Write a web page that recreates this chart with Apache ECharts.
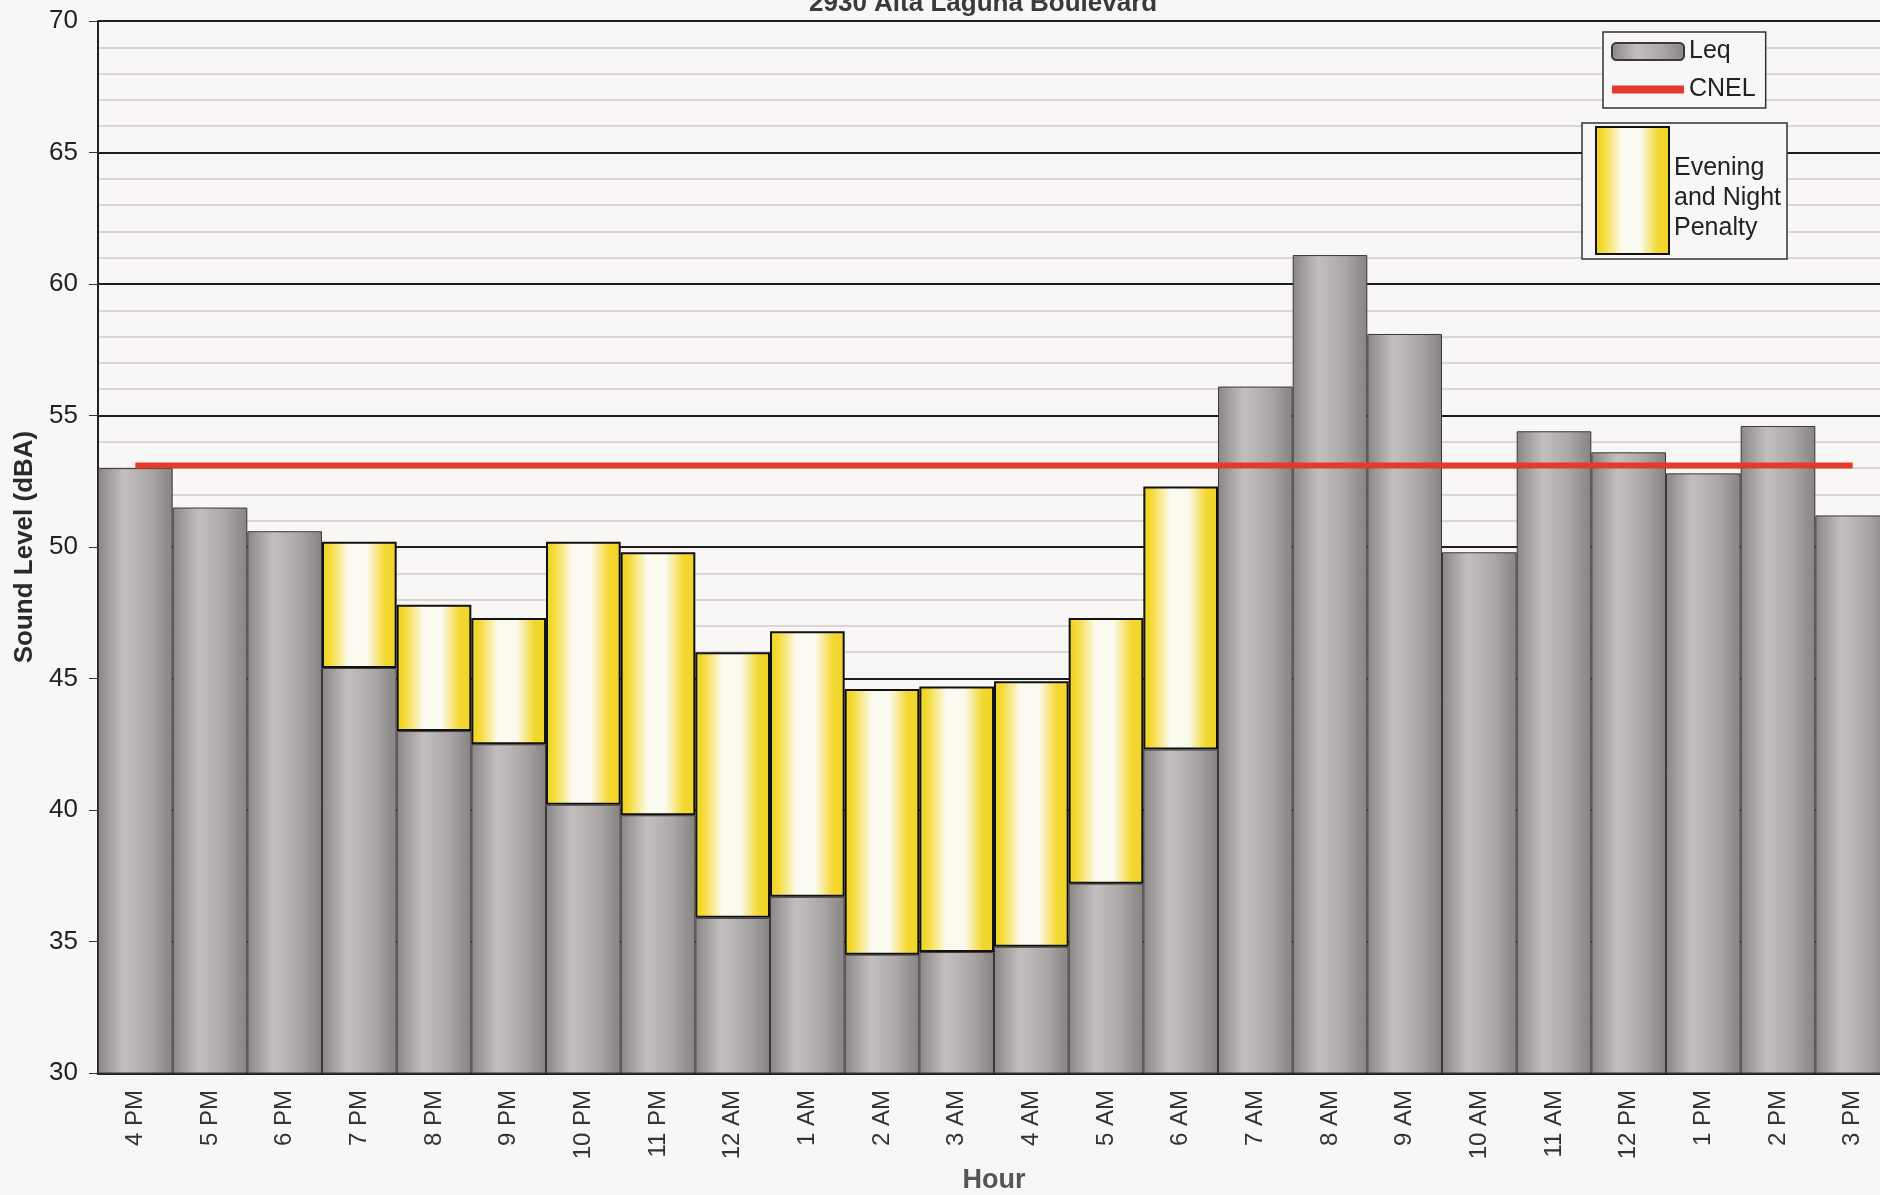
<!DOCTYPE html>
<html>
<head>
<meta charset="utf-8">
<title>2930 Alta Laguna Boulevard</title>
<script src="https://cdn.jsdelivr.net/npm/echarts@6/dist/echarts.min.js"></script>
<style>
  html, body { margin: 0; padding: 0; background: #f8f7f5; overflow: hidden; }
  #chart { width: 1890px; height: 1195px; }
</style>
</head>
<body>
<div id="chart"></div>
<script>
// hours along the bottom
const hours = ['4 PM', '5 PM', '6 PM', '7 PM', '8 PM', '9 PM', '10 PM', '11 PM',
  '12 AM', '1 AM', '2 AM', '3 AM', '4 AM', '5 AM', '6 AM', '7 AM', '8 AM', '9 AM',
  '10 AM', '11 AM', '12 PM', '1 PM', '2 PM', '3 PM']
// hourly Leq (dBA)
const leq = [53.0, 51.5, 50.6, 45.4, 43.0, 42.5, 40.2, 39.8, 35.9, 36.7, 34.5, 34.6,
  34.8, 37.2, 42.3, 56.1, 61.1, 58.1, 49.8, 54.4, 53.6, 52.8, 54.6, 51.2]
// evening (+5) and night (+10) penalty stacked on top of Leq
const penalty = [null, null, null, 4.8, 4.8, 4.8, 10.0, 10.0, 10.1, 10.1, 10.1, 10.1,
  10.1, 10.1, 10.0, null, null, null, null, null, null, null, null, null]
// 24 hour CNEL
const cnel = [53.1, 53.1, 53.1, 53.1, 53.1, 53.1, 53.1, 53.1, 53.1, 53.1, 53.1, 53.1,
  53.1, 53.1, 53.1, 53.1, 53.1, 53.1, 53.1, 53.1, 53.1, 53.1, 53.1, 53.1]
const yTicks = [30, 35, 40, 45, 50, 55, 60, 65, 70]

const font = 'Liberation Sans, Arial, sans-serif'

const grayFill = new echarts.graphic.LinearGradient(0, 0, 1, 0, [
  { offset: 0, color: '#8a8686' },
  { offset: 0.35, color: '#c3bfbf' },
  { offset: 0.7, color: '#aba7a7' },
  { offset: 1, color: '#878383' }
])
const yellowFill = new echarts.graphic.LinearGradient(0, 0, 1, 0, [
  { offset: 0, color: '#f0d01c' },
  { offset: 0.12, color: '#f5dc3c' },
  { offset: 0.36, color: '#fbfaf1' },
  { offset: 0.6, color: '#fbfaf1' },
  { offset: 0.84, color: '#f4d832' },
  { offset: 1, color: '#efd42a' }
])

var myChart = echarts.init(document.getElementById('chart'))
const option = {
  backgroundColor: '#f8f7f5',
  animation: false,
  title: {
    text: '2930 Alta Laguna Boulevard',
    left: 804,
    top: -14,
    textStyle: { fontFamily: font, fontSize: 26, fontWeight: 'bold', color: '#3a3a3a' }
  },
  // keep the plot where the scan has it, labels may run to the page edge
  grid: { left: 98, right: 0, top: 21, bottom: 122, outerBoundsMode: 'none' },
  legend: [
    {
      orient: 'vertical',
      left: 1603,
      top: 32,
      padding: [7, 10, 6, 5],
      itemGap: 13,
      itemWidth: 72,
      itemHeight: 17,
      borderColor: '#333',
      borderWidth: 1.5,
      backgroundColor: '#f8f7f5',
      selectedMode: false,
      data: [
        { name: 'Leq', icon: 'roundRect' },
        // line only, no marker on the legend line
        { name: 'CNEL', lineStyle: { width: 8 }, itemStyle: { opacity: 0 } }
      ],
      textStyle: { fontFamily: font, fontSize: 25, color: '#222' }
    },
    {
      orient: 'vertical',
      left: 1582,
      top: 123,
      padding: [3, 6, 4, 13],
      itemWidth: 73,
      itemHeight: 127,
      borderColor: '#333',
      borderWidth: 1.5,
      backgroundColor: '#f8f7f5',
      selectedMode: false,
      data: [{ name: 'Evening and Night Penalty', icon: 'rect' }],
      formatter: () => '{s| }\nEvening\nand Night\nPenalty',
      textStyle: {
        fontFamily: font, fontSize: 25, lineHeight: 30, color: '#222',
        rich: { s: { fontSize: 10, lineHeight: 16 } }
      }
    }
  ],
  xAxis: {
    type: 'category',
    data: hours,
    name: 'Hour',
    nameLocation: 'middle',
    nameGap: 94,
    nameTextStyle: { fontFamily: font, fontSize: 27, fontWeight: 'bold', color: '#555' },
    axisLine: { lineStyle: { color: '#222', width: 3 } },
    axisTick: { length: 6, lineStyle: { color: '#333' } },
    axisLabel: { rotate: 90, margin: 17, fontFamily: font, fontSize: 24, color: '#333' }
  },
  yAxis: {
    type: 'value',
    min: yTicks[0],
    max: yTicks[yTicks.length - 1],
    interval: 5,
    name: 'Sound Level (dBA)',
    nameLocation: 'middle',
    nameRotate: 90,
    nameGap: 60,
    nameTextStyle: { fontFamily: font, fontSize: 26, fontWeight: 'bold', color: '#2a2a2a' },
    axisLine: { show: true, lineStyle: { color: '#222', width: 2 } },
    axisTick: { show: true, length: 9, lineStyle: { color: '#333' } },
    axisLabel: { margin: 20, fontFamily: font, fontSize: 26, color: '#222' },
    splitLine: { lineStyle: { color: '#1e1e1e', width: 2 } },
    minorTick: { show: false, splitNumber: 5 },
    minorSplitLine: { show: true, lineStyle: { color: '#cfcccc', width: 1.5 } }
  },
  series: [
    {
      name: 'Leq',
      type: 'bar',
      stack: 'level',
      data: leq,
      barCategoryGap: '0%',
      itemStyle: { color: grayFill, borderColor: '#3a3838', borderWidth: 1 }
    },
    {
      name: 'Evening and Night Penalty',
      type: 'bar',
      stack: 'level',
      data: penalty,
      barCategoryGap: '0%',
      itemStyle: { color: yellowFill, borderColor: '#111', borderWidth: 2 }
    },
    {
      name: 'CNEL',
      type: 'line',
      data: cnel,
      symbol: 'none',
      z: 5,
      lineStyle: { color: '#e33a2c', width: 6 },
      itemStyle: { color: '#e33a2c' }
    }
  ]
}
myChart.setOption(option)
</script>
</body>
</html>
